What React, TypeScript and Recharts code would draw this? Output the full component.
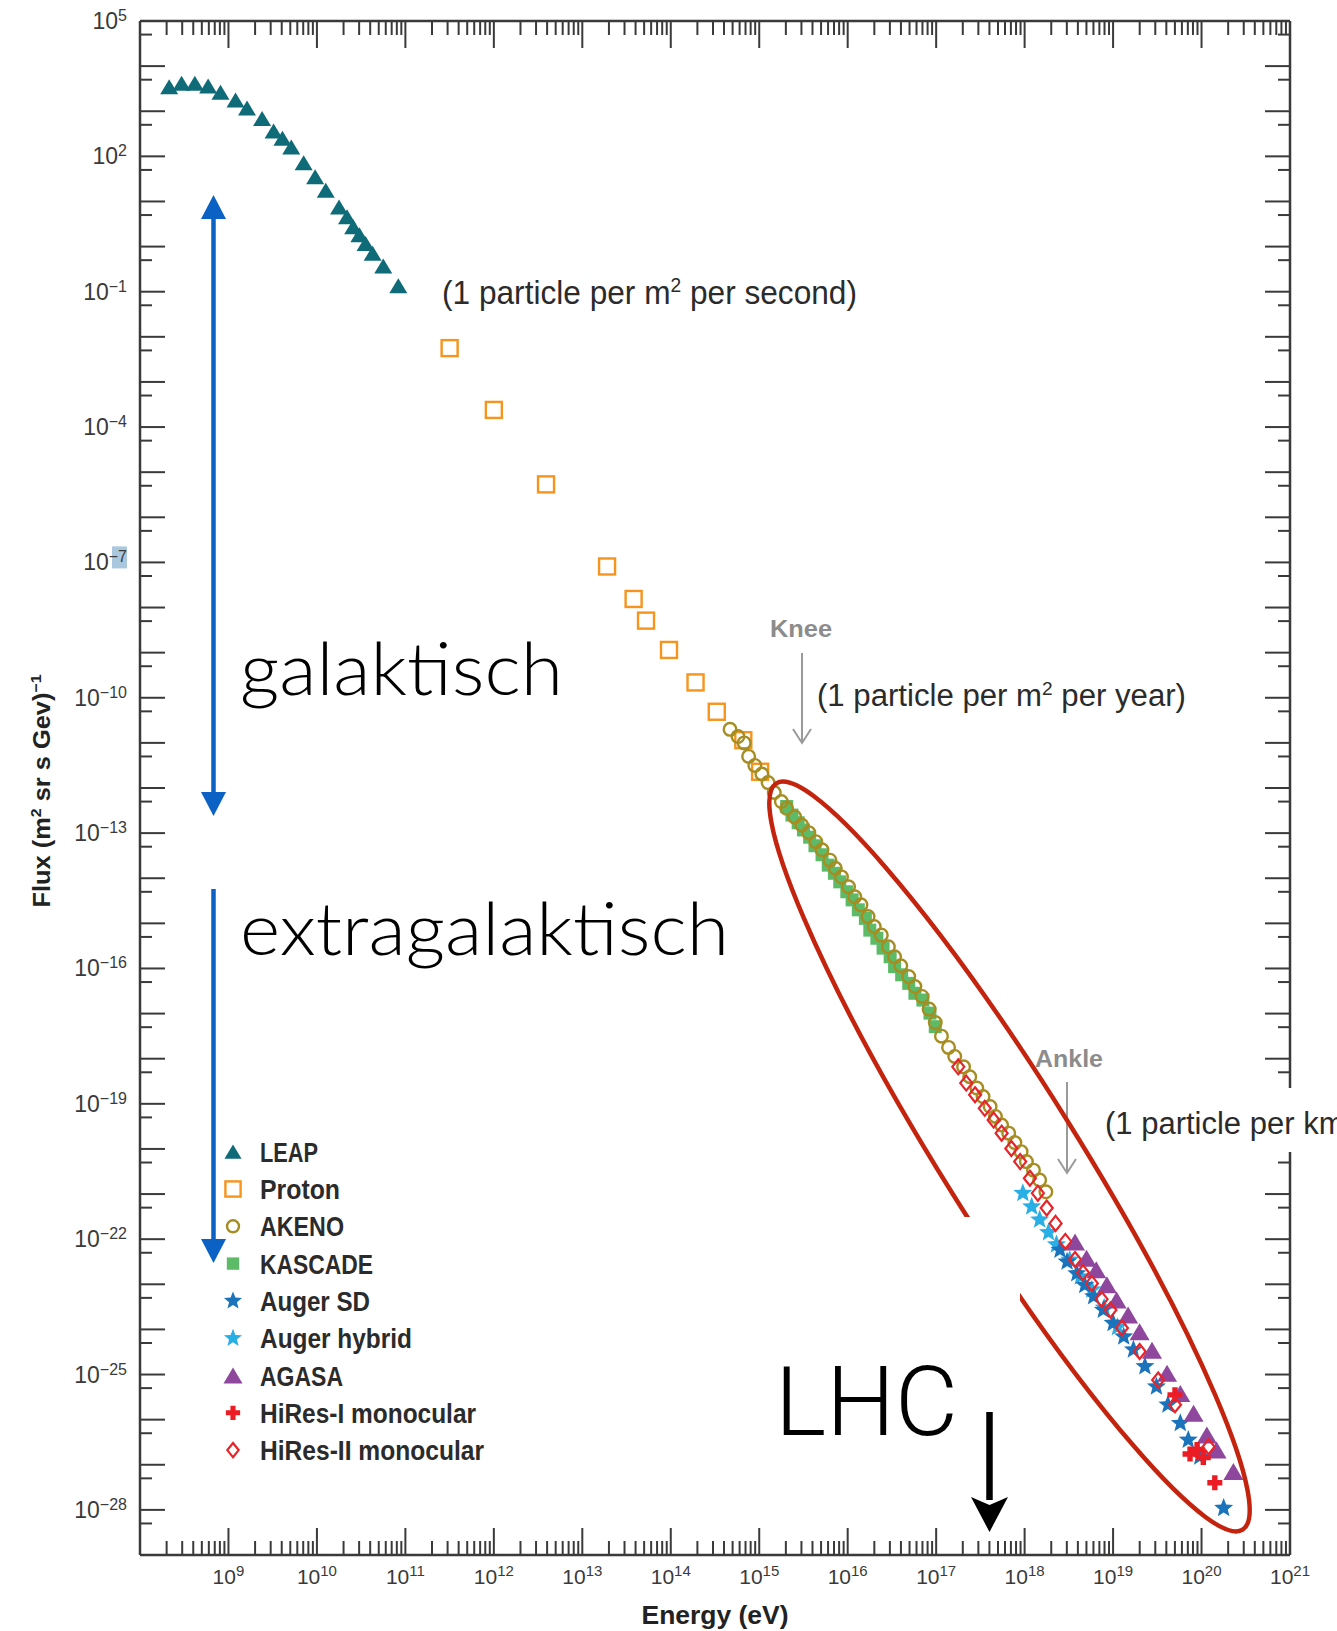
import React from "react";
import { ScatterChart, Scatter, XAxis, YAxis, Legend } from "recharts";

// each point is [log10 energy (eV), log10 flux (m^2 sr s GeV)^-1]
const leapPoints = [
  [8.33, 3.54], [8.47, 3.62], [8.62, 3.62], [8.77, 3.56], [8.91, 3.42], [9.08, 3.25],
  [9.21, 3.07], [9.38, 2.84], [9.51, 2.56], [9.61, 2.4], [9.71, 2.21], [9.85, 1.86],
  [9.98, 1.55], [10.1, 1.25], [10.25, 0.88], [10.34, 0.66], [10.41, 0.44], [10.48, 0.26],
  [10.55, 0.07], [10.63, -0.15], [10.75, -0.43], [10.92, -0.87],
];

const protonPoints = [
  [11.5, -2.25], [12.0, -3.62], [12.59, -5.27], [13.28, -7.09], [13.58, -7.81], [13.72, -8.29],
  [13.98, -8.94], [14.28, -9.66], [14.52, -10.31], [14.82, -10.94], [15.01, -11.64],
];

const akenoPoints = [
  [14.67, -10.7], [14.76, -10.86], [14.83, -11.0], [14.88, -11.3], [14.95, -11.5], [15.03, -11.69],
  [15.1, -11.88], [15.17, -12.1], [15.25, -12.3], [15.31, -12.45], [15.4, -12.64], [15.48, -12.82],
  [15.56, -12.99], [15.64, -13.19], [15.71, -13.37], [15.8, -13.6], [15.86, -13.78], [15.93, -13.97],
  [16.01, -14.19], [16.08, -14.41], [16.15, -14.59], [16.23, -14.85], [16.3, -15.07], [16.38, -15.26],
  [16.46, -15.52], [16.53, -15.74], [16.6, -15.94], [16.69, -16.18], [16.76, -16.4], [16.84, -16.62],
  [16.92, -16.9], [16.99, -17.2], [17.06, -17.5], [17.14, -17.75], [17.21, -17.95], [17.31, -18.18],
  [17.38, -18.4], [17.46, -18.65], [17.53, -18.84], [17.61, -19.06], [17.67, -19.28], [17.74, -19.47],
  [17.82, -19.65], [17.89, -19.86], [17.96, -20.06], [18.02, -20.28], [18.1, -20.47], [18.17, -20.69],
  [18.24, -20.95],
];

const kascadePoints = [
  [15.31, -12.41], [15.37, -12.6], [15.44, -12.77], [15.5, -12.93], [15.57, -13.09], [15.63, -13.28],
  [15.71, -13.48], [15.78, -13.71], [15.85, -13.89], [15.91, -14.08], [15.99, -14.3], [16.05, -14.48],
  [16.12, -14.7], [16.2, -14.89], [16.25, -15.15], [16.33, -15.33], [16.4, -15.55], [16.48, -15.74],
  [16.53, -15.96], [16.61, -16.14], [16.69, -16.33], [16.76, -16.55], [16.85, -16.7], [16.93, -16.99],
  [16.99, -17.29],
];

const augerSdPoints = [
  [18.4, -22.24], [18.48, -22.5], [18.59, -22.76], [18.68, -23.02], [18.78, -23.27], [18.89, -23.57],
  [19.0, -23.86], [19.12, -24.16], [19.23, -24.45], [19.36, -24.82], [19.49, -25.27], [19.62, -25.67],
  [19.76, -26.08], [19.85, -26.45], [19.98, -26.82], [20.25, -27.96],
];

const augerHybridPoints = [
  [17.98, -20.98], [18.08, -21.28], [18.17, -21.57], [18.27, -21.85], [18.36, -22.12], [18.51, -22.46],
  [18.63, -22.83], [18.76, -23.12], [18.9, -23.52], [19.05, -23.95],
];

const agasaPoints = [
  [18.57, -22.06], [18.7, -22.42], [18.81, -22.68], [18.93, -23.01], [19.04, -23.35], [19.17, -23.68],
  [19.3, -24.05], [19.44, -24.46], [19.61, -24.97], [19.76, -25.42], [19.91, -25.86], [20.06, -26.34],
  [20.17, -26.67], [20.36, -27.15],
];

const hiresOnePoints = [
  [19.7, -25.45], [19.87, -26.76], [19.95, -26.66], [20.02, -26.84], [20.15, -27.4],
];

const hiresTwoPoints = [
  [17.25, -18.18], [17.34, -18.54], [17.44, -18.8], [17.55, -19.1], [17.65, -19.36], [17.74, -19.65],
  [17.85, -19.99], [17.95, -20.28], [18.06, -20.65], [18.15, -20.98], [18.25, -21.31], [18.35, -21.65],
  [18.46, -22.05], [18.57, -22.45], [18.66, -22.74], [18.76, -22.98], [18.87, -23.33], [18.97, -23.57],
  [19.1, -23.97], [19.3, -24.49], [19.51, -25.12], [19.7, -25.67], [20.08, -26.6],
];

// axes: decades of energy and flux, labelled exponents
const xDecades = [8, 9, 10, 11, 12, 13, 14, 15, 16, 17, 18, 19, 20, 21];
const xLabelExps = [9, 10, 11, 12, 13, 14, 15, 16, 17, 18, 19, 20, 21];
const xMinorSteps = [2, 3, 4, 5, 6, 7, 8, 9];
const yDecades = Array.from({ length: 35 }, (_, i) => -29 + i);
const yLabelExps = [5, 2, -1, -4, -7, -10, -13, -16, -19, -22, -25, -28];
const yMinorSteps = [5];

const xTicks: number[] = [];
xDecades.forEach((k, i) => {
  xTicks.push(10 ** k);
  if (i < xDecades.length - 1) xMinorSteps.forEach((m) => xTicks.push(m * 10 ** k));
});
const yTicks: number[] = [];
yDecades.forEach((k, i) => {
  yTicks.push(10 ** k);
  if (i < yDecades.length - 1) yMinorSteps.forEach((m) => yTicks.push(m * 10 ** k));
});

const toPoints = (pairs: number[][]) => pairs.map(([e, f]) => ({ energy: 10 ** e, flux: 10 ** f }));

const COLORS = {
  leap: "#0f6b78",
  proton: "#f7941d",
  akeno: "#a68d22",
  kascade: "#5dbb68",
  augerSd: "#1b73bb",
  augerHybrid: "#2aaee6",
  agasa: "#8e479c",
  hiresOne: "#ec1c24",
  hiresTwo: "#e8242b",
  axis: "#3a3a3a",
  text: "#2b2b2b",
};

const SANS = "'Liberation Sans', Arial, Helvetica, sans-serif";

// ---------- marker shapes ----------
function marker(kind: string, cx: number, cy: number, color: string, scale = 1) {
  switch (kind) {
    case "triangle": {
      const w = 18 * scale, h = 15 * scale;
      return <polygon points={`${cx},${cy - h / 2} ${cx + w / 2},${cy + h / 2} ${cx - w / 2},${cy + h / 2}`} fill={color} />;
    }
    case "bigTriangle": {
      const w = 20 * scale, h = 17 * scale;
      return <polygon points={`${cx},${cy - h / 2} ${cx + w / 2},${cy + h / 2} ${cx - w / 2},${cy + h / 2}`} fill={color} />;
    }
    case "openSquare": {
      const s = 16 * scale;
      return <rect x={cx - s / 2} y={cy - s / 2} width={s} height={s} fill="none" stroke={color} strokeWidth={2.4} />;
    }
    case "openCircle":
      return <circle cx={cx} cy={cy} r={6.3 * scale} fill="none" stroke={color} strokeWidth={2.4} />;
    case "square": {
      const s = 13 * scale;
      return <rect x={cx - s / 2} y={cy - s / 2} width={s} height={s} fill={color} />;
    }
    case "star": {
      const R = 10 * scale, r = 4.3 * scale;
      const pts = Array.from({ length: 10 }, (_, i) => {
        const a = (-90 + i * 36) * (Math.PI / 180);
        const rad = i % 2 === 0 ? R : r;
        return `${cx + rad * Math.cos(a)},${cy + rad * Math.sin(a)}`;
      }).join(" ");
      return <polygon points={pts} fill={color} />;
    }
    case "plus": {
      const L = 7.5 * scale, w = 2.7 * scale;
      return (
        <path
          d={`M${cx - w},${cy - L}H${cx + w}V${cy - w}H${cx + L}V${cy + w}H${cx + w}V${cy + L}H${cx - w}V${cy + w}H${cx - L}V${cy - w}H${cx - w}Z`}
          fill={color}
        />
      );
    }
    case "openDiamond": {
      const w = 6 * scale, h = 7.5 * scale;
      return (
        <polygon points={`${cx},${cy - h} ${cx + w},${cy} ${cx},${cy + h} ${cx - w},${cy}`} fill="none" stroke={color} strokeWidth={2.2} />
      );
    }
    default:
      return <g />;
  }
}

const shapeOf = (kind: string, color: string) => (p: any) => marker(kind, p.cx, p.cy, color);

const legendRows = [
  { name: "LEAP", kind: "triangle", color: COLORS.leap, width: 58 },
  { name: "Proton", kind: "openSquare", color: COLORS.proton, width: 80 },
  { name: "AKENO", kind: "openCircle", color: COLORS.akeno, width: 84 },
  { name: "KASCADE", kind: "square", color: COLORS.kascade, width: 113 },
  { name: "Auger SD", kind: "star", color: COLORS.augerSd, width: 110 },
  { name: "Auger hybrid", kind: "star", color: COLORS.augerHybrid, width: 152 },
  { name: "AGASA", kind: "bigTriangle", color: COLORS.agasa, width: 83 },
  { name: "HiRes-I monocular", kind: "plus", color: COLORS.hiresOne, width: 216 },
  { name: "HiRes-II monocular", kind: "openDiamond", color: COLORS.hiresTwo, width: 224 },
];

function LegendBox() {
  return (
    <svg width={330} height={350}>
      {legendRows.map((row, i) => {
        const cy = 31.7 + i * 37.3;
        return (
          <g key={row.name}>
            {marker(row.kind, 33, cy, row.color, 0.95)}
            <text
              x={60}
              y={cy + 10}
              fontFamily={SANS}
              fontWeight={700}
              fontSize={27}
              fill={COLORS.text}
              textLength={row.width}
              lengthAdjust="spacingAndGlyphs"
            >
              {row.name}
            </text>
          </g>
        );
      })}
    </svg>
  );
}

const supText = (exp: number) => (exp < 0 ? `\u2212${-exp}` : `${exp}`);

function makeTick(side: "bottom" | "top" | "left" | "right") {
  return (props: any) => {
    const { x, y, payload } = props;
    const lg = Math.log10(payload.value);
    const exp = Math.round(lg);
    const decade = Math.abs(lg - exp) < 1e-6;
    const stroke = { stroke: COLORS.axis, strokeWidth: 2 };
    if (side === "bottom" || side === "top") {
      const len = decade ? 27 : 14;
      const dir = side === "bottom" ? -1 : 1;
      return (
        <g>
          <line x1={x} y1={y} x2={x} y2={y + dir * len} {...stroke} />
          {side === "bottom" && decade && xLabelExps.includes(exp) && (
            <text x={x} y={y + 29} textAnchor="middle" fontFamily={SANS} fontSize={21} fill={COLORS.axis}>
              10
              <tspan dy={-8} fontSize={15}>
                {supText(exp)}
              </tspan>
            </text>
          )}
        </g>
      );
    }
    const len = decade ? 25 : 12;
    const dir = side === "left" ? 1 : -1;
    return (
      <g>
        <line x1={x} y1={y} x2={x + dir * len} y2={y} {...stroke} />
        {side === "left" && decade && yLabelExps.includes(exp) && (
          <g>
            {exp === -7 && <rect x={x - 28} y={y - 16} width={15} height={22} fill="#a9c7df" />}
            <text x={x - 13} y={y + 8} textAnchor="end" fontFamily={SANS} fontSize={23} fill={COLORS.axis}>
              10
              <tspan dy={-8} fontSize={16}>
                {supText(exp)}
              </tspan>
            </text>
          </g>
        )}
      </g>
    );
  };
}

function Annotations() {
  const blue = "#0b62c4";
  const gray = "#9a9a9a";
  return (
    <svg width={1337} height={1631} style={{ position: "absolute", left: 0, top: 0, pointerEvents: "none" }}>
      {/* galactic / extragalactic arrows */}
      <line x1={213.5} y1={212} x2={213.5} y2={800} stroke={blue} strokeWidth={4.5} />
      <polygon points="213.5,195 201,219 226,219" fill={blue} />
      <polygon points="213.5,816 201,792 226,792" fill={blue} />
      <line x1={213.5} y1={889} x2={213.5} y2={1245} stroke={blue} strokeWidth={4.5} />
      <polygon points="213.5,1263 201,1239 226,1239" fill={blue} />
      <text x={240} y={695} fontFamily="Lato, 'Open Sans', sans-serif" fontWeight={300} fontSize={72} fill="#000" textLength={323} lengthAdjust="spacingAndGlyphs">
        galaktisch
      </text>
      <text x={240} y={955} fontFamily="Lato, 'Open Sans', sans-serif" fontWeight={300} fontSize={72} fill="#000" textLength={489} lengthAdjust="spacingAndGlyphs">
        extragalaktisch
      </text>

      {/* rate annotations */}
      <text x={442} y={304} fontFamily={SANS} fontSize={33} fill={COLORS.text} textLength={415} lengthAdjust="spacingAndGlyphs">
        (1 particle per m<tspan dy={-12} fontSize={20}>2</tspan>
        <tspan dy={12}> per second)</tspan>
      </text>
      <text x={817} y={706} fontFamily={SANS} fontSize={31} fill={COLORS.text} textLength={369} lengthAdjust="spacingAndGlyphs">
        (1 particle per m<tspan dy={-11} fontSize={19}>2</tspan>
        <tspan dy={11}> per year)</tspan>
      </text>
      {/* this label sits on a white box that hides part of the right frame */}
      <rect x={1098} y={1088} width={239} height={64} fill="#fff" />
      <text x={1105} y={1134} fontFamily={SANS} fontSize={31} fill={COLORS.text}>
        (1 particle per km<tspan dy={-11} fontSize={19}>2</tspan>
        <tspan dy={11}> per century)</tspan>
      </text>

      {/* knee and ankle */}
      <text x={770} y={637} fontFamily={SANS} fontWeight={700} fontSize={24} fill="#8c8c8c" textLength={62} lengthAdjust="spacingAndGlyphs">
        Knee
      </text>
      <line x1={802} y1={653} x2={802} y2={743} stroke={gray} strokeWidth={2} />
      <polyline points="793,729 802,743 811,729" fill="none" stroke={gray} strokeWidth={2} />
      <text x={1035} y={1067} fontFamily={SANS} fontWeight={700} fontSize={24} fill="#8c8c8c" textLength={68} lengthAdjust="spacingAndGlyphs">
        Ankle
      </text>
      <line x1={1067} y1={1082} x2={1067} y2={1173} stroke={gray} strokeWidth={2} />
      <polyline points="1058,1159 1067,1173 1076,1159" fill="none" stroke={gray} strokeWidth={2} />

      {/* red ellipse around the high-energy part, partly blanked */}
      <ellipse cx={1009.5} cy={1156.5} rx={440} ry={68} transform="rotate(58 1009.5 1156.5)" fill="none" stroke="#c4230e" strokeWidth={4.5} />
      <rect x={895} y={1217} width={125} height={110} fill="#fff" />

      {/* LHC */}
      <text x={775} y={1435} fontFamily="Roboto, 'Liberation Sans', sans-serif" fontWeight={300} fontSize={96} fill="#000" textLength={183} lengthAdjust="spacingAndGlyphs">
        LHC
      </text>
      <line x1={989.5} y1={1412} x2={989.5} y2={1500} stroke="#000" strokeWidth={6.5} />
      <polygon points="989.5,1532 971,1497 989.5,1505 1008,1497" fill="#000" />

      {/* axis titles */}
      <text x={715} y={1624} textAnchor="middle" fontFamily={SANS} fontWeight={700} fontSize={26} fill="#222" textLength={147} lengthAdjust="spacingAndGlyphs">
        Energy (eV)
      </text>
      <text
        x={42}
        y={799}
        transform="rotate(-90 42 791)"
        textAnchor="middle"
        fontFamily={SANS}
        fontWeight={700}
        fontSize={24}
        fill="#222"
        textLength={233}
        lengthAdjust="spacingAndGlyphs"
      >
        Flux (m<tspan dy={-9} fontSize={15}>2</tspan>
        <tspan dy={9}> sr s Gev)</tspan>
        <tspan dy={-9} fontSize={15}>{"\u22121"}</tspan>
      </text>
    </svg>
  );
}

const series = [
  { name: "LEAP", data: toPoints(leapPoints), kind: "triangle", color: COLORS.leap },
  { name: "Proton", data: toPoints(protonPoints), kind: "openSquare", color: COLORS.proton },
  { name: "KASCADE", data: toPoints(kascadePoints), kind: "square", color: COLORS.kascade },
  { name: "AKENO", data: toPoints(akenoPoints), kind: "openCircle", color: COLORS.akeno },
  { name: "Auger hybrid", data: toPoints(augerHybridPoints), kind: "star", color: COLORS.augerHybrid },
  { name: "Auger SD", data: toPoints(augerSdPoints), kind: "star", color: COLORS.augerSd },
  { name: "AGASA", data: toPoints(agasaPoints), kind: "bigTriangle", color: COLORS.agasa },
  { name: "HiRes-I monocular", data: toPoints(hiresOnePoints), kind: "plus", color: COLORS.hiresOne },
  { name: "HiRes-II monocular", data: toPoints(hiresTwoPoints), kind: "openDiamond", color: COLORS.hiresTwo },
];

// plot frame: x from 140 to 1290, y from 21 to 1555
export default function App() {
  const axisLine = { stroke: COLORS.axis, strokeWidth: 2.5 };
  return (
    <div style={{ position: "absolute", left: 0, top: 0, width: 1337, height: 1631, background: "#fff" }}>
      <ScatterChart width={1337} height={1631} margin={{ top: 11, right: 37, bottom: 36, left: 80 }}>
        <XAxis
          xAxisId="bottom"
          dataKey="energy"
          type="number"
          scale="log"
          domain={[1e8, 1e21]}
          allowDataOverflow
          ticks={xTicks}
          interval={0}
          tickSize={0}
          tickMargin={0}
          tickLine={false}
          height={40}
          axisLine={axisLine}
          tick={makeTick("bottom")}
        />
        <XAxis
          xAxisId="top"
          orientation="top"
          dataKey="energy"
          type="number"
          scale="log"
          domain={[1e8, 1e21]}
          allowDataOverflow
          ticks={xTicks}
          interval={0}
          tickSize={0}
          tickMargin={0}
          tickLine={false}
          height={10}
          axisLine={axisLine}
          tick={makeTick("top")}
        />
        <YAxis
          yAxisId="left"
          dataKey="flux"
          type="number"
          scale="log"
          domain={[1e-29, 1e5]}
          allowDataOverflow
          ticks={yTicks}
          interval={0}
          tickSize={0}
          tickMargin={0}
          tickLine={false}
          width={60}
          axisLine={axisLine}
          tick={makeTick("left")}
        />
        <YAxis
          yAxisId="right"
          orientation="right"
          dataKey="flux"
          type="number"
          scale="log"
          domain={[1e-29, 1e5]}
          allowDataOverflow
          ticks={yTicks}
          interval={0}
          tickSize={0}
          tickMargin={0}
          tickLine={false}
          width={10}
          axisLine={axisLine}
          tick={makeTick("right")}
        />
        {series.map((s) => (
          <Scatter
            key={s.name}
            name={s.name}
            xAxisId="bottom"
            yAxisId="left"
            data={s.data}
            shape={shapeOf(s.kind, s.color)}
            isAnimationActive={false}
          />
        ))}
        {/* keeps the mirrored frame axes attached to data */}
        <Scatter
          xAxisId="top"
          yAxisId="right"
          data={series[0].data}
          shape={() => <g />}
          legendType="none"
          isAnimationActive={false}
        />
        <Legend
          layout="vertical"
          align="center"
          verticalAlign="middle"
          wrapperStyle={{ left: 200, top: 1120, width: 330, height: 350 }}
          content={() => <LegendBox />}
        />
      </ScatterChart>
      <Annotations />
    </div>
  );
}
